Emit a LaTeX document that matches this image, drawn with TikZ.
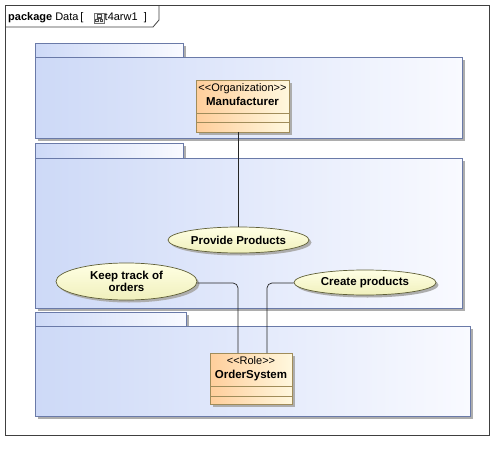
\documentclass[tikz,border=0pt]{standalone}
\usepackage{fontspec}
\setmainfont{Liberation Sans}
\usetikzlibrary{shapes.geometric,shadows,calc}
\definecolor{pkgborder}{RGB}{106,122,168}
\definecolor{pkgL}{RGB}{205,217,247}
\definecolor{pkgR}{RGB}{249,250,255}
\definecolor{clsborder}{RGB}{160,140,90}
\definecolor{clsL}{RGB}{255,206,155}
\definecolor{clsR}{RGB}{255,248,222}
\definecolor{ellborder}{RGB}{95,95,55}
\definecolor{ellT}{RGB}{255,255,228}
\definecolor{ellB}{RGB}{240,240,188}
\begin{document}
\begin{tikzpicture}[x=1pt,y=-1pt,
  shade/.style={drop shadow={shadow xshift=2.5pt,shadow yshift=-2.5pt,fill=black!32,opacity=1}},
  pkgbox/.style={rectangle,draw=pkgborder,line width=0.8pt,left color=pkgL,right color=pkgR,inner sep=0pt,outer sep=0pt,anchor=north west,shade},
  classbox/.style={rectangle,draw=clsborder,line width=0.8pt,left color=clsL,right color=clsR,inner sep=0pt,outer sep=0pt,anchor=north west,shade},
  clsline/.style={draw=clsborder,line width=0.8pt},
  usecase/.style={ellipse,draw=ellborder,line width=0.7pt,top color=ellT,bottom color=ellB,inner sep=0pt,align=center,font=\fontsize{11.5}{12.5}\selectfont\bfseries,shade},
  stereo/.style={font=\fontsize{11}{12}\selectfont,inner sep=0pt,anchor=north},
  clsname/.style={font=\fontsize{11.5}{12.5}\selectfont\bfseries,inner sep=0pt,anchor=north},
  conn/.style={draw=black!85,line width=0.7pt},
  frame/.style={draw=black!75,line width=0.8pt}]
\useasboundingbox (0,0) rectangle (504,450);
\fill[white] (0,0) rectangle (504,450);
% outer package frame
\node[frame,rectangle,anchor=north west,minimum width=484,minimum height=430,inner sep=0pt,outer sep=0pt] (outer) at (5,5) {};
\draw[frame] (5,27) -- (153,27) -- (159,20) -- (159,5);
\node[anchor=base west,inner sep=0pt,font=\fontsize{11}{12}\selectfont] (hdr) at (8,20) {\textbf{package} Data\,[};
\node[rectangle,draw=black!55,line width=0.5pt,fill=black!5,minimum width=10,minimum height=10,inner sep=0pt,anchor=north west] (icon) at (94,12.5) {};
\draw[black!70,line width=0.5pt] ($(icon.north west)+(3,2)$) rectangle ($(icon.north west)+(7,4.5)$)
  ($(icon.north west)+(5,4.5)$) -- ($(icon.north west)+(5,6)$)
  ($(icon.north west)+(2.5,6)$) -- ($(icon.north west)+(7.5,6)$)
  ($(icon.north west)+(1.5,6.5)$) rectangle ($(icon.north west)+(4,8.5)$)
  ($(icon.north west)+(6,6.5)$) rectangle ($(icon.north west)+(8.5,8.5)$);
\node[anchor=base west,inner sep=0pt,font=\fontsize{11}{12}\selectfont] (hdr2) at (104.5,20) {t4arw1\ \ ]};
% package 1
\node[pkgbox,minimum width=148,minimum height=14] (t1) at (35,43) {};
\node[pkgbox,minimum width=427,minimum height=81] (p1) at (35,57) {};
% package 2
\node[pkgbox,minimum width=148,minimum height=15] (t2) at (35,143) {};
\node[pkgbox,minimum width=427,minimum height=150] (p2) at (35,158) {};
% package 3
\node[pkgbox,minimum width=151,minimum height=14] (t3) at (35,312) {};
\node[pkgbox,minimum width=435,minimum height=90] (p3) at (35,326) {};
% Manufacturer class
\node[classbox,minimum width=93,minimum height=52] (man) at (196,80) {};
\node[stereo] (manst) at ($(man.north)+(0,3.5)$) {<{}<Organization>{}>};
\node[clsname] (manname) at ($(man.north)+(0,17)$) {Manufacturer};
\draw[clsline] ($(man.south west)+(0,-19)$) -- ($(man.south east)+(0,-19)$);
\draw[clsline] ($(man.south west)+(0,-10)$) -- ($(man.south east)+(0,-10)$);
% OrderSystem class
\node[classbox,minimum width=82,minimum height=51] (os) at (210,353) {};
\node[stereo] (osst) at ($(os.north)+(0,3.5)$) {<{}<Role>{}>};
\node[clsname] (osname) at ($(os.north)+(0,17)$) {OrderSystem};
\draw[clsline] ($(os.south west)+(0,-18)$) -- ($(os.south east)+(0,-18)$);
\draw[clsline] ($(os.south west)+(0,-8)$) -- ($(os.south east)+(0,-8)$);
% use cases
\node[usecase,minimum width=141,minimum height=26] (pp) at (238.5,240) {Provide Products};
\node[usecase,minimum width=141,minimum height=37] (kt) at (126.5,281.5) {Keep track of\\orders};
\node[usecase,minimum width=142,minimum height=25] (cp) at (365,282.5) {Create products};
\coordinate (osA) at ($(os.north west)+(28,0)$);
\coordinate (osB) at ($(os.north west)+(57,0)$);
% connectors
\draw[conn] (man.south -| pp.north) -- (pp.north);
\draw[conn,rounded corners=5pt] (kt.east |- 0,283) -| (osA);
\draw[conn,rounded corners=5pt] (cp.west |- 0,283) -| (osB);
\end{tikzpicture}
\end{document}
